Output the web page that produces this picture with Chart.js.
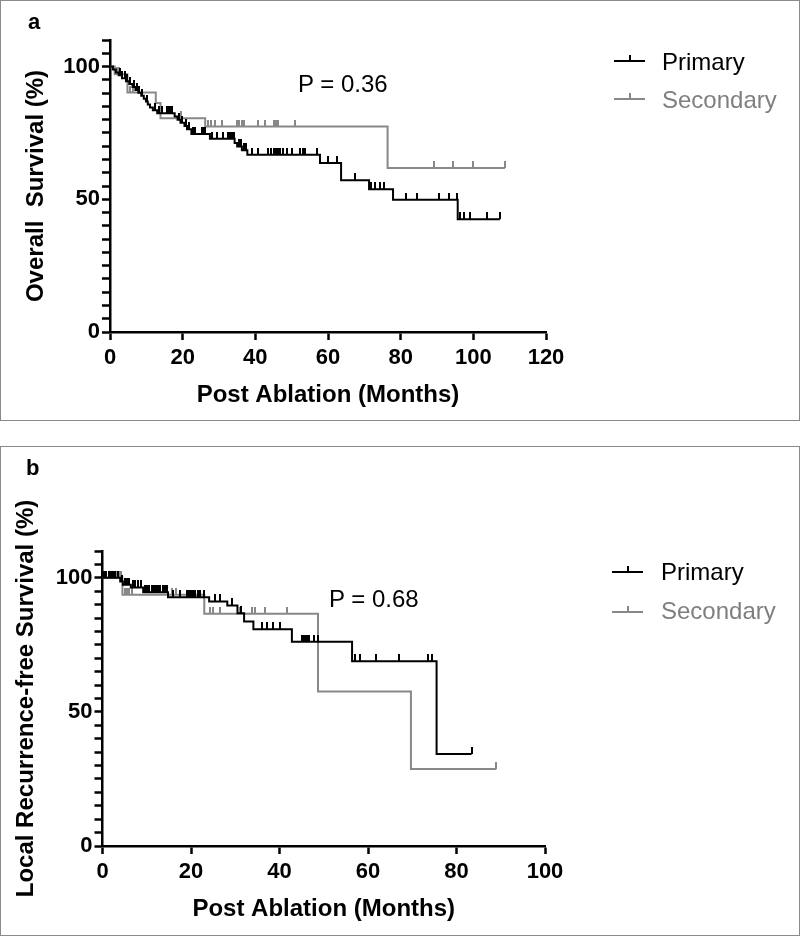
<!DOCTYPE html>
<html><head><meta charset="utf-8">
<script src="https://cdn.jsdelivr.net/npm/chart.js@4/dist/chart.umd.min.js"></script>
<style>
html,body{margin:0;padding:0;background:#fff;}
#wrap{position:relative;width:800px;height:936px;overflow:hidden;font-family:'Liberation Sans',Arial,sans-serif;background:#fff;}
.box{position:absolute;box-sizing:border-box;border:1px solid #8a8a8a;}
canvas{position:absolute;left:0;}
.t{position:absolute;white-space:nowrap;line-height:1;}
.ln{position:absolute;}
</style></head><body>
<div id="wrap">
 <div class="box" style="left:0;top:0;width:800px;height:421px"></div>
 <div class="box" style="left:0;top:446px;width:800px;height:490px"></div>
 <canvas id="ca" width="800" height="420" style="top:0"></canvas>
 <canvas id="cb" width="800" height="490" style="top:446px"></canvas>

 <div class="t" style="left:28px;top:11px;font-size:22px;font-weight:bold;">a</div>
 <div class="t" style="left:26px;top:457px;font-size:22px;font-weight:bold;">b</div>

 <div class="t" style="left:298px;top:72px;font-size:24px;">P = 0.36</div>
 <div class="t" style="left:329px;top:587px;font-size:24px;">P = 0.68</div>

 <!-- legend a -->
 <div class="ln" style="left:614px;top:60px;width:31px;height:2px;background:#000"></div>
 <div class="ln" style="left:629px;top:55px;width:2px;height:6px;background:#000"></div>
 <div class="t" style="left:662px;top:50px;font-size:24px;color:#000">Primary</div>
 <div class="ln" style="left:614px;top:98px;width:31px;height:2px;background:#888"></div>
 <div class="ln" style="left:629px;top:93px;width:2px;height:6px;background:#888"></div>
 <div class="t" style="left:662px;top:88px;font-size:24px;color:#7f7f7f">Secondary</div>

 <!-- legend b -->
 <div class="ln" style="left:612px;top:571px;width:31px;height:2px;background:#000"></div>
 <div class="ln" style="left:627px;top:566px;width:2px;height:6px;background:#000"></div>
 <div class="t" style="left:661px;top:560px;font-size:24px;color:#000">Primary</div>
 <div class="ln" style="left:612px;top:611px;width:31px;height:2px;background:#888"></div>
 <div class="ln" style="left:627px;top:606px;width:2px;height:6px;background:#888"></div>
 <div class="t" style="left:661px;top:599px;font-size:24px;color:#7f7f7f">Secondary</div>
</div>
<script>
// ---------- Panel a: Overall survival ----------
const A_PRIMARY_EVENT_MONTHS = [0.8,1.6,2.4,3.3,4.4,5.3,6.2,7.0,7.8,8.6,9.3,9.9,10.4,11.0,11.8,13.0,17.8,18.6,19.4,20.5,21.2,22.4,27.5,34.3,35.0,36.3,37.8,57.8,63.6,71.3,77.9,95.7];
const A_PRIMARY_EVENT_SURV   = [98.9,97.8,96.7,95.6,94.5,93.4,92.3,91.2,90.1,89.0,87.9,86.8,85.7,84.6,83.5,82.4,81.2,80.0,78.8,77.6,76.4,74.6,72.8,71.2,69.9,68.5,66.8,63.7,57.2,53.8,49.8,42.5];
const A_PRIMARY_LAST = 107.3;
const A_PRIMARY_CENSOR = [2.8,3.4,4.0,4.8,5.6,6.5,7.4,8.0,8.9,10.2,12.4,13.4,14.2,15.6,16.0,16.5,17.0,18.9,19.8,20.8,21.8,22.8,23.4,25.2,25.7,26.1,28.0,29.4,31.2,32.5,33.0,33.6,34.0,35.4,36.0,36.8,37.3,39.0,40.8,43.6,44.3,45.0,45.7,46.3,46.8,47.7,48.6,50.0,52.3,53.0,53.7,56.9,59.9,62.4,67.4,71.8,72.9,74.2,75.3,81.5,84.4,90.6,93.4,95.5,96.4,97.3,99.2,103.7,107.3];

const A_SECONDARY_EVENT_MONTHS = [1.3,4.8,12.6,13.9,26.2,76.4];
const A_SECONDARY_EVENT_SURV   = [97.1,90.2,86.3,80.5,77.4,61.8];
const A_SECONDARY_LAST = 108.7;
const A_SECONDARY_CENSOR = [1.9,2.5,5.6,6.3,19.5,27.0,27.9,28.9,30.7,34.9,35.6,36.3,36.9,40.7,42.6,45.0,45.6,46.3,50.8,89.3,94.5,100.0,108.7];

const A_X_TICKS = [0,20,40,60,80,100,120];
const A_Y_LABELS = [0,50,100];

// ---------- Panel b: Local recurrence-free survival ----------
const B_PRIMARY_EVENT_MONTHS = [4.0,4.6,6.4,9.2,14.8,24.1,28.2,30.5,32.0,34.1,42.8,56.4,75.5];
const B_PRIMARY_EVENT_SURV   = [98.6,97.4,96.4,94.6,92.8,91.2,89.7,86.8,83.7,80.8,76.2,68.9,34.3];
const B_PRIMARY_LAST = 83.4;
const B_PRIMARY_CENSOR = [0.4,0.9,1.4,1.9,2.4,2.9,3.4,4.3,5.0,5.6,6.0,6.8,7.4,8.0,8.6,9.6,10.1,10.6,11.1,11.6,12.1,12.6,13.1,13.6,14.1,14.5,16.0,17.5,19.0,19.5,20.0,20.5,21.0,21.5,22.0,23.0,25.5,26.6,29.2,31.2,36.0,37.1,38.6,40.2,45.0,45.4,45.8,46.2,46.6,47.7,48.6,57.1,58.3,61.7,66.9,73.5,74.5,83.4];

const B_SECONDARY_EVENT_MONTHS = [4.5,23.0,48.7,69.7];
const B_SECONDARY_EVENT_SURV   = [93.7,86.6,57.6,28.7];
const B_SECONDARY_LAST = 89.0;
const B_SECONDARY_CENSOR = [3.3,3.8,4.2,5.0,5.5,6.0,6.6,15.6,16.7,24.2,25.0,26.5,31.1,33.8,34.5,36.8,41.7,89.0];

const B_X_TICKS = [0,20,40,60,80,100];
const B_Y_LABELS = [0,50,100];

const FONT = "'Liberation Sans', Arial, sans-serif";
Chart.defaults.font.family = FONT;
Chart.defaults.color = '#000';

function stepData(months, surv, last){
  const pts = [{x:0,y:100}];
  months.forEach((m,i)=>pts.push({x:m,y:surv[i]}));
  pts.push({x:last,y:surv[surv.length-1]});
  return pts;
}
function levelAt(months, surv, t){
  let s = 100;
  for (let i=0;i<months.length;i++) if (months[i] <= t) s = surv[i];
  return s;
}
function censorData(months, surv, cens){
  return cens.map(t=>({x:t,y:levelAt(months,surv,t)}));
}
function tickImg(color){
  const c = document.createElement('canvas');
  c.width = 2; c.height = 14;
  const g = c.getContext('2d');
  g.fillStyle = color; g.fillRect(0,0,2,7);
  return c;
}
const TICK_BLACK = tickImg('#000');
const TICK_GRAY = tickImg('#888');

function makeChart(id, p){
  new Chart(document.getElementById(id), {
    type: 'line',
    data: { datasets: [
      { data: stepData(p.pm,p.ps,p.plast), borderColor:'#000', borderWidth:2, stepped:true, pointRadius:0, fill:false, borderJoinStyle:'miter', borderCapStyle:'butt' },
      { data: censorData(p.pm,p.ps,p.pc), showLine:false, pointStyle:TICK_BLACK, pointRadius:3, borderWidth:0 },
      { data: stepData(p.sm,p.ss,p.slast), borderColor:'#888', borderWidth:2, stepped:true, pointRadius:0, fill:false, borderJoinStyle:'miter', borderCapStyle:'butt' },
      { data: censorData(p.sm,p.ss,p.sc), showLine:false, pointStyle:TICK_GRAY, pointRadius:3, borderWidth:0 }
    ]},
    options: {
      responsive:false, animation:false, events:[],
      layout:{ padding:{ left:0, right:p.padRight, top:p.padTop, bottom:0 } },
      plugins:{ legend:{display:false}, tooltip:{enabled:false} },
      scales:{
        x:{ type:'linear', min:0, max:p.xTicks[p.xTicks.length-1],
            afterBuildTicks: s => { s.ticks = p.xTicks.map(v=>({value:v})); },
            ticks:{ autoSkip:false, maxRotation:0, padding:5, color:'#000', font:{size:22, weight:'bold'} },
            grid:{ drawOnChartArea:false, drawTicks:true, tickLength:8, tickColor:'#000', tickWidth:2.5 },
            border:{ display:true, color:'#000', width:2.5 },
            title:{ display:true, text:'Post Ablation (Months)', color:'#000', font:{size:24, weight:'bold'}, padding:{top:0,bottom:p.xTitlePad} },
            afterFit: s => { s.height = p.xAxisH; } },
        y:{ type:'linear', min:0, max:110,
            ticks:{ stepSize:5, autoSkip:false, padding:2, color:'#000', font:{size:22, weight:'bold'},
                    callback: v => (p.yLabels.includes(v) ? String(v) : '') },
            grid:{ drawOnChartArea:false, drawTicks:true, tickLength:8, tickColor:'#000', tickWidth:2.5 },
            border:{ display:true, color:'#000', width:2.5 },
            title:{ display:true, text:p.yTitle, color:'#000', font:{size:24, weight:'bold'}, padding:{top:p.yTitlePad,bottom:0} },
            afterFit: s => { s.width = p.yAxisW; } }
      }
    }
  });
}

makeChart('ca', {
  pm:A_PRIMARY_EVENT_MONTHS, ps:A_PRIMARY_EVENT_SURV, plast:A_PRIMARY_LAST, pc:A_PRIMARY_CENSOR,
  sm:A_SECONDARY_EVENT_MONTHS, ss:A_SECONDARY_EVENT_SURV, slast:A_SECONDARY_LAST, sc:A_SECONDARY_CENSOR,
  xTicks:A_X_TICKS, yLabels:A_Y_LABELS, yTitle:'Overall  Survival (%)',
  padRight:254, padTop:40, xAxisH:88, yAxisW:110, xTitlePad:10, yTitlePad:22
});
makeChart('cb', {
  pm:B_PRIMARY_EVENT_MONTHS, ps:B_PRIMARY_EVENT_SURV, plast:B_PRIMARY_LAST, pc:B_PRIMARY_CENSOR,
  sm:B_SECONDARY_EVENT_MONTHS, ss:B_SECONDARY_EVENT_SURV, slast:B_SECONDARY_LAST, sc:B_SECONDARY_CENSOR,
  xTicks:B_X_TICKS, yLabels:B_Y_LABELS, yTitle:'Local Recurrence-free Survival (%)',
  padRight:255, padTop:105, xAxisH:90, yAxisW:102.5, xTitlePad:12, yTitlePad:12
});
</script>
</body></html>
